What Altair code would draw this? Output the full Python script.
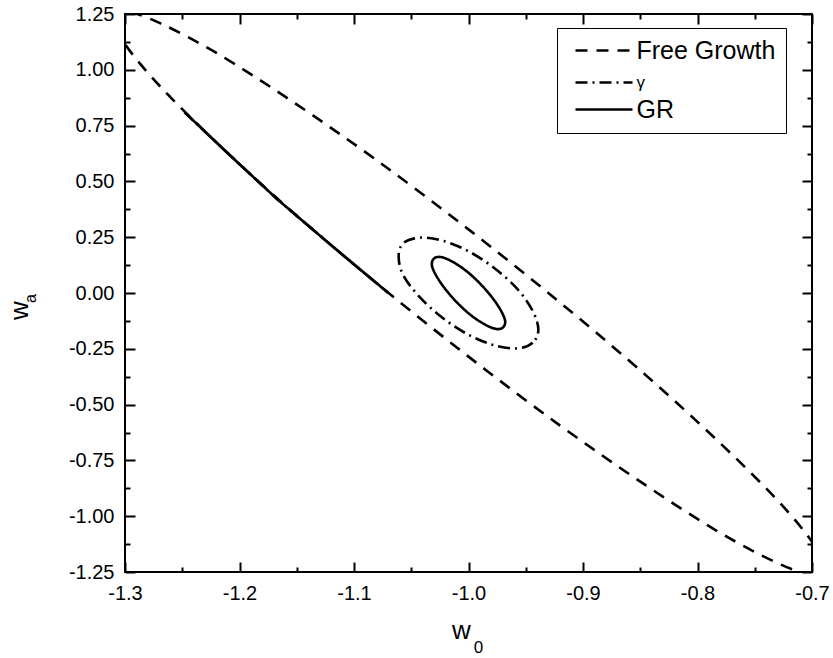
import altair as alt
import pandas as pd

# ---------------- data ----------------
series_names = ["Free Growth", "γ", "GR"]
dash_styles = [[12, 9], [12, 5, 2, 5], [1, 0]]

# Free Growth contour (large, partly outside the frame)
fg_x = [-0.690, -0.700, -0.731, -0.781, -0.845, -0.920, -1.000, -1.080, -1.155, -1.219, -1.269, -1.300,
        -1.310, -1.300, -1.269, -1.219, -1.155, -1.080, -1.000, -0.920, -0.845, -0.781, -0.731, -0.700]
fg_y = [-1.231, -1.263, -1.208, -1.072, -0.862, -0.594, -0.285, 0.043, 0.369, 0.669, 0.924, 1.115,
        1.231, 1.263, 1.208, 1.072, 0.862, 0.594, 0.285, -0.043, -0.369, -0.669, -0.924, -1.115]

# gamma contour
gam_x = [-0.939, -0.944, -0.957, -0.977, -1.000, -1.023, -1.043, -1.057,
         -1.061, -1.057, -1.043, -1.023, -1.000, -0.977, -0.957, -0.944]
gam_y = [-0.164, -0.223, -0.248, -0.235, -0.187, -0.110, -0.016, 0.080,
         0.164, 0.223, 0.248, 0.235, 0.187, 0.110, 0.016, -0.080]

# GR contour
gr_x = [-0.970, -0.968, -0.972, -0.980, -0.991, -1.003, -1.015, -1.024,
        -1.030, -1.032, -1.028, -1.020, -1.009, -0.997, -0.985, -0.976]
gr_y = [-0.155, -0.125, -0.076, -0.016, 0.048, 0.103, 0.143, 0.161,
        0.155, 0.125, 0.076, 0.016, -0.048, -0.103, -0.143, -0.161]

# stray segment (solid + dash-dot) lying on the Free Growth arm
stray_x = [-1.248, -1.209, -1.167, -1.119, -1.070]
stray_y = [0.81, 0.62, 0.42, 0.21, 0.0]

x_major = [-1.3, -1.2, -1.1, -1.0, -0.9, -0.8, -0.7]
x_minor = [-1.25, -1.15, -1.05, -0.95, -0.85, -0.75]
y_major = [-1.25, -1.0, -0.75, -0.5, -0.25, 0.0, 0.25, 0.5, 0.75, 1.0, 1.25]
y_minor = [-1.125, -0.875, -0.625, -0.375, -0.125, 0.125, 0.375, 0.625, 0.875, 1.125]

x_title, x_sub = "w", "0"
y_title, y_sub = "w", "a"

# ---------------- tables ----------------
rows = []
for name, xs_, ys_ in [("Free Growth", fg_x, fg_y), ("γ", gam_x, gam_y), ("GR", gr_x, gr_y)]:
    for i, (a, b) in enumerate(zip(xs_, ys_)):
        rows.append({"series": name, "i": i, "x": a, "y": b})
df = pd.DataFrame(rows)

srows = []
for name in ["γ", "GR"]:
    for i, (a, b) in enumerate(zip(stray_x, stray_y)):
        srows.append({"series": name, "i": i, "x": a, "y": b})
sdf = pd.DataFrame(srows)

W, H = 687, 558
FONT = "Liberation Sans"

xscale = alt.Scale(domain=[-1.3, -0.7], nice=False, zero=False)
yscale = alt.Scale(domain=[-1.25, 1.25], nice=False, zero=False)


def tick_axis(orient, values, size, offset, **kw):
    if "title" not in kw:
        kw["title"] = None
    return alt.Axis(orient=orient, offset=offset, values=values, labels=False, domain=False,
                    ticks=True, tickSize=size, tickWidth=2, tickColor="black", grid=False, **kw)


x_label_axis = alt.Axis(orient="bottom", values=x_major, ticks=False, tickSize=0, domain=False, grid=False,
                        labelExpr="replace(format(datum.value, '.1f'), '−', '-')",
                        labelFontSize=20, labelFont=FONT, labelColor="black", labelPadding=11,
                        labelFlush=False, labelOverlap=False,
                        title=x_title, titleFont=FONT, titleFontSize=26, titleFontWeight="normal",
                        titleColor="black", titleX=336, titleY=66, titleAlign="center",
                        titleBaseline="alphabetic")
y_label_axis = alt.Axis(orient="left", values=y_major, ticks=False, tickSize=0, domain=False, grid=False,
                        labelExpr="replace(format(datum.value, '.2f'), '−', '-')",
                        labelFontSize=20, labelFont=FONT, labelColor="black", labelPadding=11,
                        labelFlush=False, labelOverlap=False,
                        title=y_title, titleFont=FONT, titleFontSize=26, titleFontWeight="normal",
                        titleColor="black", titleX=-98, titleY=296, titleAlign="center",
                        titleAngle=270, titleBaseline="alphabetic")

legend = alt.Legend(title=None, orient="none", legendX=432, legendY=14, symbolType="M-5,0H5",
                    symbolSize=130, symbolStrokeWidth=2.5, symbolStrokeColor="black",
                    labelFontSize=alt.ExprRef(expr="datum.label == 'γ' ? 17 : 25"),
                    labelFont=FONT, labelColor="black", padding=10, strokeColor="black",
                    fillColor="white", rowPadding=6, labelOffset=20, symbolOffset=24.5, labelLimit=300)

ell = alt.Chart(df).mark_line(clip=True, strokeWidth=2.6, color="black",
                              interpolate="cardinal-closed").encode(
    x=alt.X("x:Q", scale=xscale, axis=x_label_axis),
    y=alt.Y("y:Q", scale=yscale, axis=y_label_axis),
    strokeDash=alt.StrokeDash("series:N", scale=alt.Scale(domain=series_names, range=dash_styles),
                              legend=legend),
    order=alt.Order("i:Q"),
)

stray = alt.Chart(sdf).mark_line(clip=True, strokeWidth=2.6, color="black").encode(
    x=alt.X("x:Q", axis=tick_axis("top", x_major, 10, -H)),
    y=alt.Y("y:Q", axis=tick_axis("right", y_major, 10, -W)),
    strokeDash=alt.StrokeDash("series:N"),
    order=alt.Order("i:Q"),
)

l3 = alt.Chart(df).mark_point(opacity=0, clip=True).encode(
    x=alt.X("x:Q", axis=tick_axis("top", x_minor, 5, -H)),
    y=alt.Y("y:Q", axis=tick_axis("right", y_minor, 5, -W)),
)
# this pair also carries the subscripts of the axis titles
l4 = alt.Chart(df).mark_point(opacity=0, clip=True).encode(
    x=alt.X("x:Q", axis=tick_axis("bottom", x_major, 10, -H, title=x_sub, titleFont=FONT,
                                  titleFontSize=17, titleFontWeight="normal", titleColor="black",
                                  titleX=353, titleY=638, titleAlign="center",
                                  titleBaseline="alphabetic")),
    y=alt.Y("y:Q", axis=tick_axis("left", y_major, 10, -W, title=y_sub, titleFont=FONT,
                                  titleFontSize=16, titleFontWeight="normal", titleColor="black",
                                  titleX=-777, titleY=284, titleAlign="center", titleAngle=270,
                                  titleBaseline="alphabetic")),
)
l5 = alt.Chart(df).mark_point(opacity=0, clip=True).encode(
    x=alt.X("x:Q", axis=tick_axis("bottom", x_minor, 5, -H)),
    y=alt.Y("y:Q", axis=tick_axis("left", y_minor, 5, -W)),
)

chart = alt.layer(ell, stray, l3, l4, l5).resolve_axis(x="independent", y="independent").properties(
    width=W, height=H,
    autosize=alt.AutoSizeParams(type="none"),
    padding={"left": 125, "top": 14, "right": 21, "bottom": 86},
    background="white",
).configure(font=FONT).configure_view(stroke="black", strokeWidth=2)

chart.save("out.html", embed_options={"renderer": "svg", "actions": False})
